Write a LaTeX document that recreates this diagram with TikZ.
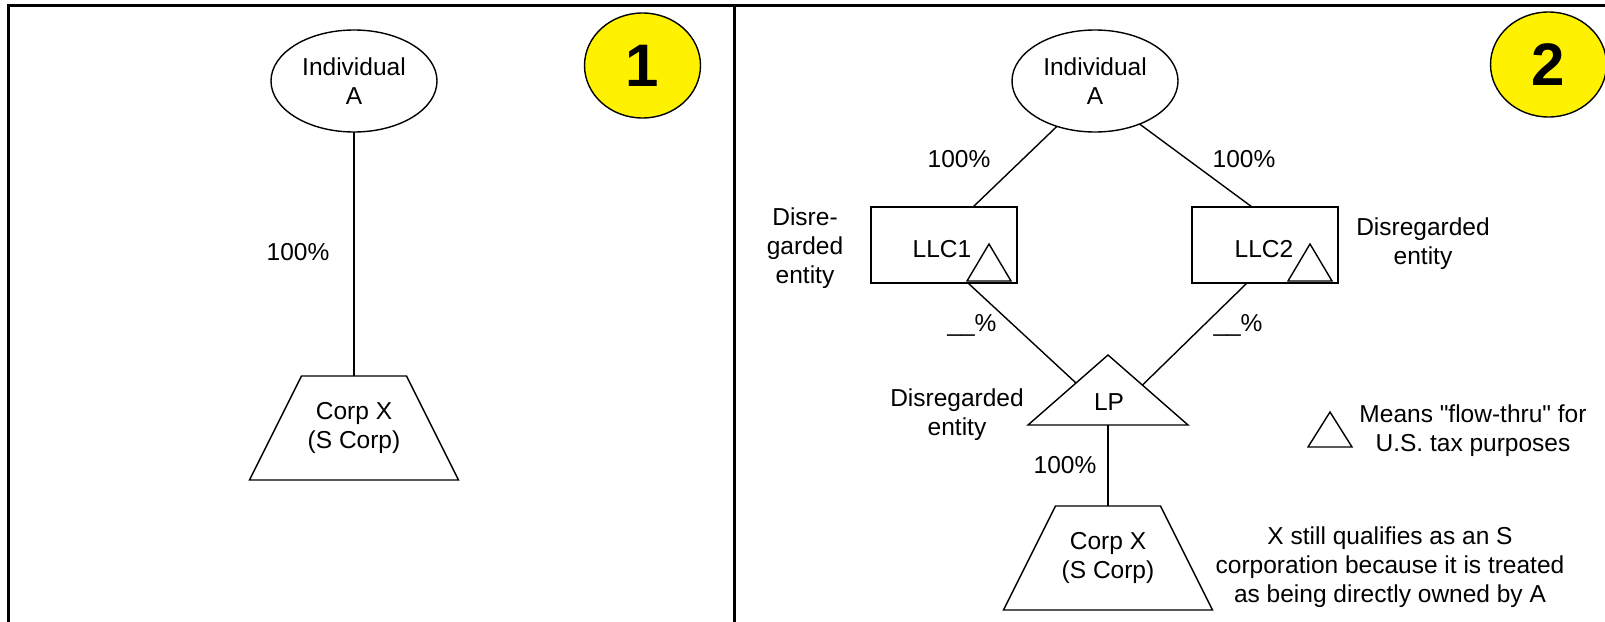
\documentclass[tikz,border=0pt]{standalone}
\usepackage{fontspec}
\setmainfont{Liberation Sans}[Ligatures=TeXOff]
\usetikzlibrary{shapes.geometric,calc}
\begin{document}
\begin{tikzpicture}[x=1pt,y=-1pt, line width=1.4pt,
  every node/.style={font=\fontsize{24.5}{29}\selectfont, inner sep=0pt, outer sep=0pt},
  txt/.style={align=center},
  ell/.style={draw, ellipse, minimum width=166pt, minimum height=102pt, align=center},
  badge/.style={draw, ellipse, fill=yellow, minimum width=116pt, minimum height=105pt, font=\fontsize{60}{60}\selectfont\bfseries},
  llcbox/.style={draw, rectangle, minimum width=146pt, minimum height=76pt},
  trapbox/.style={rectangle, minimum width=209pt, minimum height=104pt, align=center},
  tribox/.style={rectangle, minimum width=160pt, minimum height=70pt},
  frameline/.style={line width=3pt},
]
\useasboundingbox (0,0) rectangle (1605,621);
\clip (0,0) rectangle (1605,621);

% frame
\draw[frameline] (8.5,625) -- (8.5,5.5) -- (1610,5.5);
\draw[frameline] (734.5,5.5) -- (734.5,625);

% ---------- panel 1 ----------
\node[ell] (ind1) at (354,81) {Individual\\A};
\node[badge] (b1) at (642.5,65.5) {1};
\node[trapbox] (corp1) at (354,428) {Corp X\\(S Corp)};
\draw (corp1.south west) -- ($(corp1.north west)+(52,0)$) -- ($(corp1.north east)+(-52,0)$) -- (corp1.south east) -- cycle;
\draw (ind1) -- (corp1);
\node (p1) at (298,252) {100\%};

% ---------- panel 2 ----------
\node[ell] (ind2) at (1095,81) {Individual\\A};
\node[badge] (b2) at (1548.5,64.5) {2};

\node[llcbox] (llc1) at (944,245) {};
\node[llcbox] (llc2) at (1265,245) {};
\node (llc1t) at (942,249) {LLC1};
\node (llc2t) at (1264,249) {LLC2};
\draw ($(llc1.south east)+(-6,-2)$) -- ($(llc1.south east)+(-28,-39)$) -- ($(llc1.south east)+(-50,-2)$) -- cycle;
\draw ($(llc2.south east)+(-6,-2)$) -- ($(llc2.south east)+(-28,-39)$) -- ($(llc2.south east)+(-50,-2)$) -- cycle;

\node[tribox] (lp) at (1108,390) {};
\draw (lp.south west) -- (lp.north) -- (lp.south east) -- cycle;
\node (lpt) at (1109,402) {LP};
\coordinate (lpL) at ($(lp.north)!0.4!(lp.south west)$);
\coordinate (lpR) at ($(lp.north)!0.43!(lp.south east)$);

\node[trapbox] (corp2) at (1108,558) {Corp X\\(S Corp)};
\draw (corp2.south west) -- ($(corp2.north west)+(52,0)$) -- ($(corp2.north east)+(-52,0)$) -- (corp2.south east) -- cycle;

% connectors
\draw (ind2.-130) -- ($(llc1.north west)+(102,0)$);
\draw (ind2.-44) -- ($(llc2.north west)+(60,0)$);
\draw ($(llc1.south west)+(97,0)$) -- (lpL);
\draw ($(llc2.south west)+(55,0)$) -- (lpR);
\draw (lp) -- (corp2);

% labels
\node (pc1) at (959,159) {100\%};
\node (pc2) at (1244,159) {100\%};
\node[txt] (dis1) at (805,248) {Disre-\\garded\\entity};
\node[txt] (dis2) at (1423,244) {Disregarded\\entity};
\node[txt] (dis3) at (957,415) {Disregarded\\entity};
\node (pu1) at (972,325) {\_\_\%};
\node (pu2) at (1238,325) {\_\_\%};
\node (p3) at (1065,465) {100\%};

% legend
\draw (1330,412) -- (1352,447) -- (1308,447) -- cycle;
\node[txt] (leg) at (1473,431) {Means "flow-thru" for\\U.S. tax purposes};

\node[txt] (note) at (1390,567) {X still qualifies as an S\\corporation because it is treated\\as being directly owned by A};
\end{tikzpicture}
\end{document}
